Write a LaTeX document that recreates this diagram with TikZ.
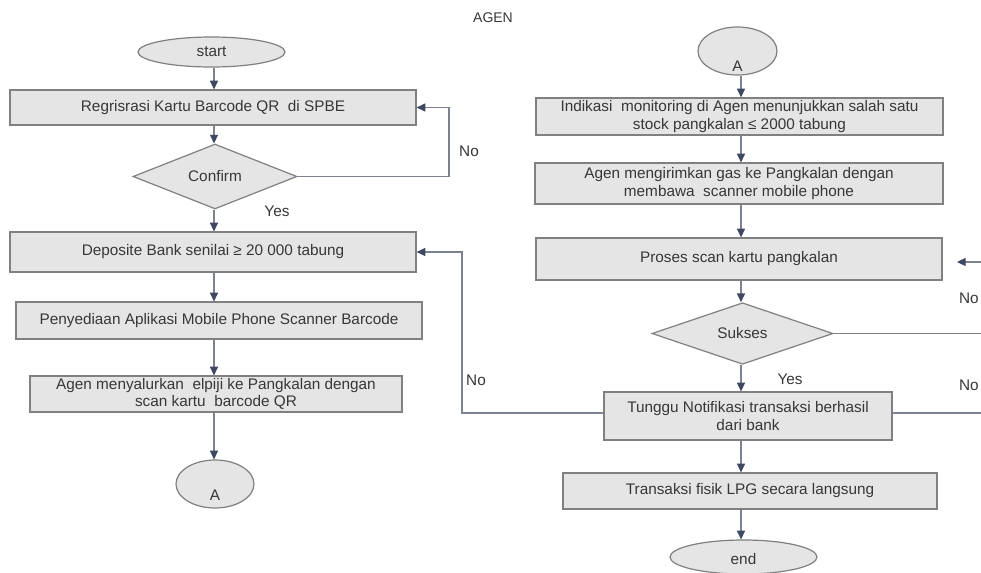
\documentclass[tikz,border=0pt]{standalone}
\usepackage{fontspec}
\setmainfont{Liberation Sans}
\usetikzlibrary{shapes.geometric,arrows.meta}
\definecolor{boxfill}{RGB}{229,229,229}
\definecolor{boxline}{RGB}{128,128,128}
\definecolor{linec}{RGB}{125,130,145}
\definecolor{headc}{RGB}{62,72,98}
\definecolor{txtc}{RGB}{55,55,55}
\newcommand\flowfont{\fontsize{11.5}{13.2}\selectfont}
\tikzset{
  wh/.style 2 args={minimum width=#1*0.75pt, minimum height=#2*0.75pt},
  proc/.style={rectangle, draw=boxline, fill=boxfill, line width=0.9pt,
    inner sep=0pt, align=center, text=txtc, font=\flowfont},
  term/.style={ellipse, draw=boxline, fill=boxfill, line width=0.9pt, inner sep=0pt},
  dec/.style={diamond, draw=boxline, fill=boxfill, line width=0.9pt,
    inner sep=0pt, text=txtc, font=\flowfont},
  lbl/.style={text=txtc, font=\flowfont, inner sep=0pt},
  flow/.style={draw=linec, line width=0.9pt,
    -{Triangle[length=6.5pt,width=6pt,color=headc]}},
  plain/.style={draw=linec, line width=0.9pt},
}
\begin{document}
\begin{tikzpicture}[x=0.75pt,y=-0.75pt]
\useasboundingbox (0,0) rectangle (981,572);
\clip (0,0) rectangle (981,572);
\fill[white] (0,0) rectangle (981,572);

\node[lbl, font=\fontsize{10.5}{12}\selectfont] (title) at (493,18) {AGEN};

% left column
\node[term, wh={147}{30}, lbl] (start) at (211.5,52) {};
\node[lbl] (startt) at (211.5,52) {start};
\node[proc, wh={406}{35}] (reg) at (213,107.5) {Regrisrasi Kartu Barcode QR\ \ di SPBE};
\node[dec, wh={164}{53}] (conf) at (215,176.5) {Confirm};
\node[proc, wh={406}{40}] (dep) at (213,252) {Deposite Bank senilai ≥ 20 000 tabung};
\node[proc, wh={406}{37}] (app) at (219,320.5) {Penyediaan Aplikasi Mobile Phone Scanner Barcode};
\node[proc, wh={372}{36}] (dist) at (216,394) {Agen menyalurkan\ \ elpiji ke Pangkalan dengan\\scan kartu\ \ barcode QR};
\node[term, wh={78}{48}] (a1) at (215,484) {};
\node[lbl] (a1t) at (215,495) {A};

% right column
\node[term, wh={79}{48}] (a2) at (737.5,51) {};
\node[lbl] (a2t) at (737.5,66) {A};
\node[proc, wh={407}{37}] (ind) at (739.5,116.5) {Indikasi\ \ monitoring di Agen menunjukkan salah satu\\stock pangkalan ≤ 2000 tabung};
\node[proc, wh={408}{41}] (kirim) at (739,183.5) {Agen mengirimkan gas ke Pangkalan dengan\\membawa\ \ scanner mobile phone};
\node[proc, wh={406}{42}] (scan) at (739,259) {Proses scan kartu pangkalan};
\node[dec, wh={181}{57}] (suk) at (742.5,333.5) {Sukses};
\node[proc, wh={288}{48}] (tunggu) at (748,416) {Tunggu Notifikasi transaksi berhasil\\dari bank};
\node[proc, wh={374}{36}] (fisik) at (750,491) {Transaksi fisik LPG secara langsung};
\node[term, wh={147}{34}] (end) at (743.5,557) {};
\node[lbl] (endt) at (743.5,559) {end};

% column axes and turning points
\coordinate (colL) at (214,0);
\coordinate (colR) at (741,0);
\coordinate (noTop) at (449,0);
\coordinate (noMid) at (462,0);
\coordinate (retR) at (995,0);
\coordinate (scanIn) at (957,262);
\coordinate (tw) at ([yshift=2.25pt]tunggu.west);
\coordinate (te) at ([yshift=2.25pt]tunggu.east);

% main flow, left
\draw[flow] (colL |- start.south) -- (colL |- reg.north);
\draw[flow] (colL |- reg.south) -- (colL |- conf.north);
\draw[flow] (colL |- conf.south) -- (colL |- dep.north);
\draw[flow] (colL |- dep.south) -- (colL |- app.north);
\draw[flow] (colL |- app.south) -- (colL |- dist.north);
\draw[flow] (colL |- dist.south) -- (colL |- a1.north);

% main flow, right
\draw[flow] (colR |- a2.south) -- (colR |- ind.north);
\draw[flow] (colR |- ind.south) -- (colR |- kirim.north);
\draw[flow] (colR |- kirim.south) -- (colR |- scan.north);
\draw[flow] (colR |- scan.south) -- (colR |- suk.north);
\draw[flow] (colR |- suk.south) -- (colR |- tunggu.north);
\draw[flow] (colR |- tunggu.south) -- (colR |- fisik.north);
\draw[flow] (colR |- fisik.south) -- (colR |- end.north);

% loops back
\draw[flow] (conf.east) -| (noTop |- reg.east) -- (reg.east);
\draw[flow] (tw) -| (noMid |- dep.east) -- (dep.east);
\draw[flow] (suk.east) -| (retR |- scanIn) -- (scanIn);
\draw[plain] (te) -| (retR |- suk.east);

% branch labels
\node[lbl] (yes1) at (277,211) {Yes};
\node[lbl] (no1) at (469,151) {No};
\node[lbl] (yes2) at (790,379) {Yes};
\node[lbl] (no2) at (476,380) {No};
\node[lbl, anchor=east] (no3) at (979,298) {No};
\node[lbl, anchor=east] (no4) at (979,385) {No};
\end{tikzpicture}
\end{document}
